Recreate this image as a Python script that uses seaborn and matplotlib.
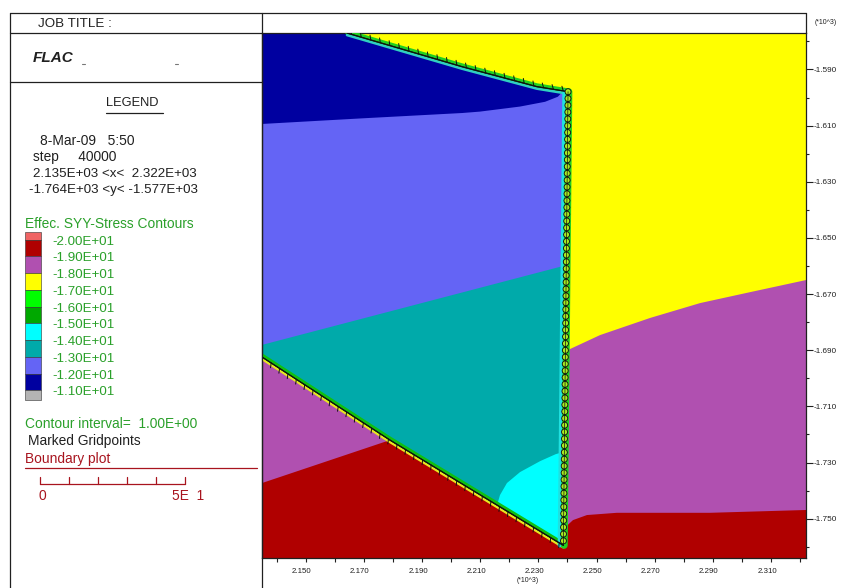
import matplotlib
matplotlib.use("Agg")
import matplotlib.pyplot as plt
import matplotlib.transforms as mtransforms
import matplotlib.patheffects as pe
from matplotlib.patches import Rectangle
import seaborn as sns

# ---------------- data (model coordinates, metres) ----------------
x_min, x_max = 2135.0, 2322.0
y_min, y_max = -1764.0, -1577.0

# excavation boundary (marked gridpoints)
top_line_x = [2164.2, 2203.8, 2229.5, 2240.2]
top_line_y = [-1577.0, -1589.0, -1596.1, -1597.9]
vert_line_x = [2240.2, 2238.6]
vert_line_y = [-1597.9, -1759.5]
diag_line_x = [2238.6, 2179.0, 2135.0, 2131.0]
diag_line_y = [-1759.5, -1722.0, -1692.4, -1689.7]

# contour zone edges
navy_edge_x = [2135.0, 2169.4, 2203.8, 2209.9, 2223.7, 2232.3, 2236.7, 2238.0]
navy_edge_y = [-1609.4, -1607.4, -1605.5, -1605.0, -1603.2, -1601.5, -1599.7, -1598.3]
teal_edge_x = [2135.0, 2240.0]
teal_edge_y = [-1688.1, -1659.6]
cyan_edge_x = [2215.8, 2216.8, 2219.2, 2223.7, 2230.6, 2236.0, 2239.5]
cyan_edge_y = [-1745.2, -1741.6, -1737.3, -1733.4, -1729.5, -1727.0, -1726.0]
yellow_edge_x = [2240.2, 2251.2, 2268.4, 2285.6, 2302.8, 2322.0]
yellow_edge_y = [-1689.9, -1684.6, -1678.5, -1673.2, -1669.3, -1665.0]
red_edge_right_x = [2239.4, 2241.9, 2246.7, 2257.0, 2289.0, 2322.0]
red_edge_right_y = [-1752.9, -1750.5, -1748.7, -1747.9, -1747.9, -1746.9]
red_edge_left_x = [2135.0, 2179.0]
red_edge_left_y = [-1737.3, -1722.0]

# legend levels / colours
contour_labels = ["-2.00E+01", "-1.90E+01", "-1.80E+01", "-1.70E+01", "-1.60E+01",
                  "-1.50E+01", "-1.40E+01", "-1.30E+01", "-1.20E+01", "-1.10E+01"]
contour_colors = ["#F06464", "#B00000", "#B050B0", "#FFFF00", "#00FF00", "#00A800",
                  "#00FFFF", "#00AAAA", "#6464F5", "#0000A0", "#B4B4B4"]

x_ticks = [2150, 2170, 2190, 2210, 2230, 2250, 2270, 2290, 2310]
x_minor = [2140, 2160, 2180, 2200, 2220, 2240, 2260, 2280, 2300, 2320]
y_ticks = [-1750, -1730, -1710, -1690, -1670, -1650, -1630, -1610, -1590]
y_minor = [-1760, -1740, -1720, -1700, -1680, -1660, -1640, -1620, -1600, -1580]

RED, PURPLE, YELLOW = contour_colors[1], contour_colors[2], contour_colors[3]
CYAN, TEAL, BLUE, NAVY = contour_colors[6], contour_colors[7], contour_colors[8], contour_colors[9]

# ---------------- figure ----------------
sns.set_style("white")
plt.rcParams["font.family"] = ["Liberation Sans", "DejaVu Sans"]
plt.rcParams["lines.scale_dashes"] = False

W, H = 845, 588
fig = plt.figure(figsize=(W / 100, H / 100), dpi=100)
fig.patch.set_facecolor("white")
ax = fig.add_axes([262 / W, 1 - 558 / H, 544 / W, 525 / H])
ax.set_facecolor(PURPLE)

def fill(xs, ys, color):
    ax.fill(xs, ys, color=color, lw=0, zorder=1)

# yellow (above top line and right-top)
fill([top_line_x[0], x_max] + yellow_edge_x[::-1] + top_line_x[::-1],
     [y_max, y_max] + yellow_edge_y[::-1] + top_line_y[::-1], YELLOW)
# red (bottom)
fill(red_edge_left_x + [diag_line_x[0]] + red_edge_right_x + [x_max, x_min],
     red_edge_left_y + [diag_line_y[0]] + red_edge_right_y + [y_min, y_min], RED)
# wedge base teal
fill([x_min] + top_line_x + vert_line_x[1:] + diag_line_x[1:3],
     [y_max] + top_line_y + vert_line_y[1:] + diag_line_y[1:3], TEAL)
# medium blue
fill([x_min] + top_line_x + teal_edge_x[::-1],
     [y_max] + top_line_y + teal_edge_y[::-1], BLUE)
# navy
fill([x_min] + top_line_x[:3] + navy_edge_x[::-1],
     [y_max] + top_line_y[:3] + navy_edge_y[::-1], NAVY)
# cyan
fill(cyan_edge_x + [vert_line_x[1]], cyan_edge_y + [vert_line_y[1]], CYAN)

def shifted(dx, dy):
    return ax.transData + mtransforms.ScaledTranslation(dx / 72, dy / 72, fig.dpi_scale_trans)

def bline(xs, ys, color, lw, dx=0.0, dy=0.0, z=3, **kw):
    sns.lineplot(x=xs, y=ys, sort=False, estimator=None, color=color, lw=lw,
                 ax=ax, transform=shifted(dx, dy), zorder=z, **kw)

# fringes along boundary
bline(top_line_x, top_line_y, "#20D020", 3.2, dy=0.8)
bline(top_line_x, top_line_y, "#30D0C0", 1.8, dy=-1.5)
bline(diag_line_x, diag_line_y, "#10C010", 3.2, dy=0.9)
bline(diag_line_x, diag_line_y, "#E8E820", 1.6, dy=-1.5)
bline(vert_line_x, vert_line_y, "#20E0E0", 3.0, dx=-2.6)
bline(vert_line_x, vert_line_y, "#20D020", 5.0, dx=0.6)

tick_fx = [pe.withTickedStroke(angle=115, spacing=7, length=0.5, linewidth=0.7), pe.Normal()]
bline(top_line_x, top_line_y, "#101010", 0.8, z=4, path_effects=tick_fx)
bline(diag_line_x, diag_line_y, "#101010", 0.8, z=4, path_effects=tick_fx)
# marked gridpoints on the vertical boundary (round dots)
ax.plot(vert_line_x, vert_line_y, color="#101010", lw=5.0, linestyle=(0, (0.05, 4.85)),
        dash_capstyle="round", solid_capstyle="round", zorder=5)
ax.plot(vert_line_x, vert_line_y, color="#A8EC20", lw=3.7, linestyle=(0, (0.05, 4.85)),
        dash_capstyle="round", solid_capstyle="round", zorder=6)
ax.plot(vert_line_x, vert_line_y, color="#101010", lw=0.5, zorder=7)

ax.set_xlim(x_min, x_max)
ax.set_ylim(y_min, y_max)
ax.set_xlabel("")
ax.set_ylabel("")

# ticks
ax.yaxis.tick_right()
ax.set_xticks(x_ticks)
ax.set_xticks(x_minor, minor=True)
ax.set_yticks(y_ticks)
ax.set_yticks(y_minor, minor=True)
ax.set_xticklabels([f"{v / 1000:.3f}" for v in x_ticks])
ax.set_yticklabels([f"{v / 1000:.3f}" for v in y_ticks])
ax.tick_params(axis="x", which="both", direction="out", length=3, width=0.8,
               labelsize=5.7, pad=4, colors="#202020", bottom=True)
ax.tick_params(axis="y", which="major", direction="out", length=5, width=0.8,
               labelsize=5.9, pad=0.5, colors="#202020", right=True, left=False)
ax.tick_params(axis="y", which="minor", direction="out", length=2.5, width=0.8,
               right=True, left=False, colors="#202020")
for s in ax.spines.values():
    s.set_color("#202020")
    s.set_linewidth(0.9)
    s.set_visible(True)
for lab in ax.get_xticklabels():
    lab.set_transform(lab.get_transform() + mtransforms.ScaledTranslation(-4 / 100, 0, fig.dpi_scale_trans))

# ---------------- left legend panel (pixel coordinates) ----------------
pn = fig.add_axes([0, 0, 1, 1], zorder=5)
pn.set_xlim(0, W)
pn.set_ylim(H, 0)
pn.axis("off")
K = "#202020"
for (xa, xb, ya, yb) in [(10, 806, 13, 13), (10, 10, 13, 588), (262, 262, 13, 588),
                         (10, 262, 33, 33), (10, 262, 82, 82), (806, 806, 13, 33)]:
    pn.plot([xa, xb], [ya, yb], color=K, lw=0.9)

GTXT = "#2AA02A"
BRED = "#A8141E"
fs = 9.9
pn.text(38, 24, "JOB TITLE :", fontsize=9.6, va="center", ha="left", color=K)
pn.text(33, 58, "FLAC", fontsize=11, fontweight="bold", fontstyle="italic", va="center", ha="left", color=K)
pn.plot([82, 85], [64, 64], color="#777777", lw=0.8)
pn.plot([175, 178], [64, 64], color="#777777", lw=0.8)
pn.text(132, 103, "LEGEND", fontsize=9.3, va="center", ha="center", color=K)
pn.plot([106, 163], [113, 113], color=K, lw=0.9)
pn.text(40, 141, "8-Mar-09   5:50", fontsize=fs, va="center", ha="left", color=K)
pn.text(33, 157.5, "step     40000", fontsize=fs, va="center", ha="left", color=K)
pn.text(33, 174, "2.135E+03 <x<  2.322E+03", fontsize=9.6, va="center", ha="left", color=K)
pn.text(29, 190, "-1.764E+03 <y< -1.577E+03", fontsize=9.6, va="center", ha="left", color=K)

pn.text(25, 224.5, "Effec. SYY-Stress Contours", fontsize=fs, va="center", ha="left", color=GTXT)
step = 16.75
tops = [232.0] + [239.5 + i * step for i in range(9)] + [239.5 + 9 * step]
bots = tops[1:] + [400.0]
for c, t, b in zip(contour_colors, tops, bots):
    pn.add_patch(Rectangle((25, t), 16, b - t, facecolor=c, edgecolor="#303030", lw=0.4))
for i, lab in enumerate(contour_labels):
    pn.text(52, 241.7 + i * step, lab, fontsize=9.6, va="center", ha="left", color=GTXT)

pn.text(25, 424.5, "Contour interval=  1.00E+00", fontsize=fs, va="center", ha="left", color=GTXT)
pn.text(28, 441.5, "Marked Gridpoints", fontsize=fs, va="center", ha="left", color=K)
pn.text(25, 458.5, "Boundary plot", fontsize=fs, va="center", ha="left", color=BRED)
pn.plot([25, 257], [467.5, 467.5], color=BRED, lw=0.9)
pn.plot([40, 185], [483.5, 483.5], color=BRED, lw=0.9)
for tx in [40, 69, 98, 127, 156, 185]:
    pn.plot([tx, tx], [477, 483.5], color=BRED, lw=0.9)
pn.text(42, 495.5, "0", fontsize=fs, va="center", ha="center", color=BRED)
pn.text(172, 495.5, "5E  1", fontsize=fs, va="center", ha="left", color=BRED)

# exponent labels
pn.text(826, 22, "(*10^3)", fontsize=5, va="center", ha="center", color=K)
pn.text(528, 580.5, "(*10^3)", fontsize=5, va="center", ha="center", color=K)

fig.savefig("out.png", dpi=100, facecolor="white")
